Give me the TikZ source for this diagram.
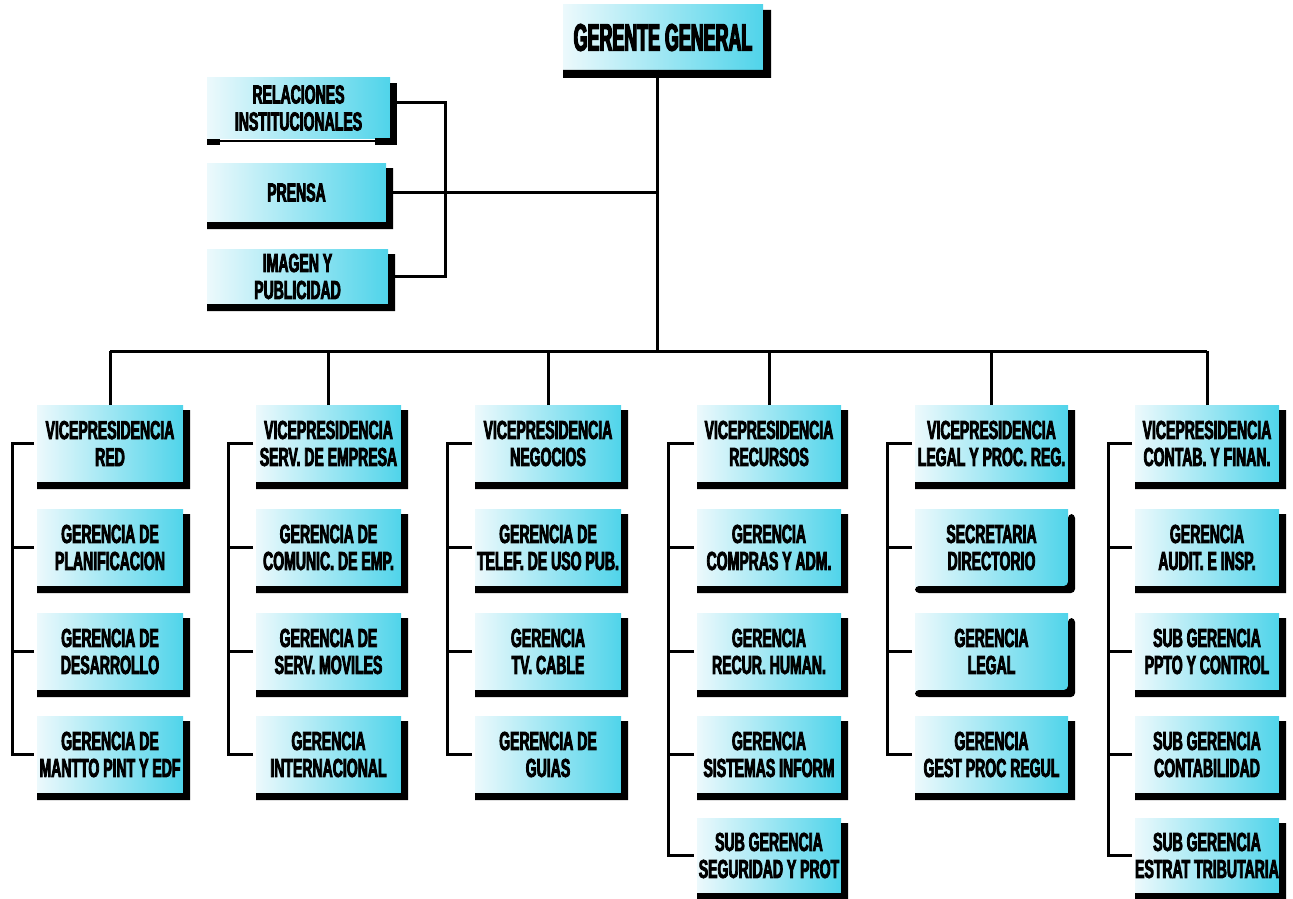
\documentclass[tikz,border=0pt]{standalone}
\usepackage{fontspec}
\newfontfamily\orgfont{Liberation Sans}[FakeStretch=0.54,FakeBold=3]
\newfontfamily\topfont{Liberation Sans}[FakeStretch=0.47,FakeBold=3.5]
\definecolor{boxlight}{RGB}{236,249,252}
\definecolor{boxcyan}{RGB}{80,212,234}
\tikzset{
  box/.style={left color=boxlight, right color=boxcyan, inner sep=0pt, outer sep=0pt,
    align=center, font=\orgfont\bfseries\fontsize{26}{27}\selectfont},
  bigbox/.style={box, font=\topfont\bfseries\fontsize{38}{38}\selectfont},
  shadowbar/.style={fill=black},
  link/.style={draw=black, line width=3pt}
}
% box with an L-shaped black shadow on its right and bottom edges
% #1 shadow options, #2 name, #3 left, #4 top, #5 right, #6 bottom, #7 text
\newcommand\orgbox[7][]{%
  \node[box, minimum width={#5-#3}, minimum height={#6-#4}, anchor=north west] (#2) at (#3,#4) {#7};
  \fill[shadowbar,#1] ([yshift=-5pt]#2.north east) -- ([xshift=7pt,yshift=-5pt]#2.north east)
    -- ([xshift=7pt,yshift=-7pt]#2.south east) -- ([yshift=-7pt]#2.south west)
    -- (#2.south west) -- (#2.south east) -- cycle;
}
\begin{document}
\begin{tikzpicture}[x=1pt,y=-1pt]
\useasboundingbox[fill=white] (0,0) rectangle (1293,899);

% top level
\node[bigbox, minimum width=200, minimum height=65, anchor=north west] (gg) at (563,5) {GERENTE GENERAL};
\fill[shadowbar] ([yshift=-5pt]gg.north east) -- ([xshift=8pt,yshift=-5pt]gg.north east)
  -- ([xshift=8pt,yshift=-8pt]gg.south east) -- ([yshift=-8pt]gg.south west)
  -- (gg.south west) -- (gg.south east) -- cycle;

% staff boxes
\node[box, minimum width=183, minimum height=60, anchor=north west] (rel) at (207,78) {RELACIONES\\INSTITUCIONALES};
\fill[shadowbar] ([yshift=-5pt]rel.north east) rectangle ([xshift=7pt,yshift=-7pt]rel.south east);
\fill[shadowbar] ([xshift=-15pt]rel.south east) rectangle ([yshift=-7pt]rel.south east);
\fill[shadowbar] ([yshift=-1pt]rel.south west) rectangle ([xshift=13pt,yshift=-7pt]rel.south west);
\draw[line width=1.4pt] ([xshift=13pt,yshift=-3pt]rel.south west) -- ([xshift=-15pt,yshift=-3pt]rel.south east);
\orgbox{pr}{207}{163}{386}{222}{PRENSA}
\orgbox{img}{207}{249}{388}{304}{IMAGEN Y\\PUBLICIDAD}

% column 1
\orgbox{c1r1}{37}{405}{183}{482}{VICEPRESIDENCIA\\RED}
\orgbox{c1r2}{37}{509}{183}{586}{GERENCIA DE\\PLANIFICACION}
\orgbox{c1r3}{37}{613}{183}{690}{GERENCIA DE\\DESARROLLO}
\orgbox{c1r4}{37}{716}{183}{793}{GERENCIA DE\\MANTTO PINT Y EDF}
% column 2
\orgbox{c2r1}{256}{405}{401}{482}{VICEPRESIDENCIA\\SERV. DE EMPRESA}
\orgbox{c2r2}{256}{509}{401}{586}{GERENCIA DE\\COMUNIC. DE EMP.}
\orgbox{c2r3}{256}{613}{401}{690}{GERENCIA DE\\SERV. MOVILES}
\orgbox{c2r4}{256}{716}{401}{793}{GERENCIA\\INTERNACIONAL}
% column 3
\orgbox{c3r1}{475}{405}{621}{482}{VICEPRESIDENCIA\\NEGOCIOS}
\orgbox{c3r2}{475}{509}{621}{586}{GERENCIA DE\\TELEF. DE USO PUB.}
\orgbox{c3r3}{475}{613}{621}{690}{GERENCIA\\TV. CABLE}
\orgbox{c3r4}{475}{716}{621}{793}{GERENCIA DE\\GUIAS}
% column 4
\orgbox{c4r1}{697}{405}{841}{482}{VICEPRESIDENCIA\\RECURSOS}
\orgbox{c4r2}{697}{509}{841}{586}{GERENCIA\\COMPRAS Y ADM.}
\orgbox{c4r3}{697}{613}{841}{690}{GERENCIA\\RECUR. HUMAN.}
\orgbox{c4r4}{697}{716}{841}{793}{GERENCIA\\SISTEMAS INFORM}
\orgbox{c4r5}{697}{818}{841}{893}{SUB GERENCIA\\SEGURIDAD Y PROT}
% column 5
\orgbox{c5r1}{915}{405}{1068}{482}{VICEPRESIDENCIA\\LEGAL Y PROC. REG.}
\orgbox[rounded corners=4pt]{c5r2}{915}{509}{1068}{586}{SECRETARIA\\DIRECTORIO}
\orgbox[rounded corners=4pt]{c5r3}{915}{613}{1068}{690}{GERENCIA\\LEGAL}
\orgbox{c5r4}{915}{716}{1068}{793}{GERENCIA\\GEST PROC REGUL}
% column 6
\orgbox{c6r1}{1135}{405}{1279}{482}{VICEPRESIDENCIA\\CONTAB. Y FINAN.}
\orgbox{c6r2}{1135}{509}{1279}{586}{GERENCIA\\AUDIT. E INSP.}
\orgbox{c6r3}{1135}{613}{1279}{690}{SUB GERENCIA\\PPTO Y CONTROL}
\orgbox{c6r4}{1135}{716}{1279}{793}{SUB GERENCIA\\CONTABILIDAD}
\orgbox{c6r5}{1135}{818}{1279}{893}{SUB GERENCIA\\ESTRAT TRIBUTARIA}

% guide coordinates for the connector lines
\coordinate (trunk) at (657,0);
\coordinate (bus) at (0,351);
\coordinate (sspine) at (445,0);
\coordinate (s1) at (12,0);
\coordinate (s2) at (228,0);
\coordinate (s3) at (447,0);
\coordinate (s4) at (668,0);
\coordinate (s5) at (887,0);
\coordinate (s6) at (1108,0);

% trunk, staff links and main bus
\draw[link] (gg.south -| trunk) -- (trunk |- bus);
\draw[link] ([xshift=7pt]pr.east) -- (pr.east -| trunk);
\draw[link] ([xshift=7pt,yshift=6pt]rel.east) -- ([yshift=6pt]rel.east -| sspine)
  -- (img.east -| sspine) -- ([xshift=7pt]img.east);
\draw[link] (c1r1.north |- bus) -- (c6r1.north |- bus);
\foreach \c in {1,...,6}{
  \draw[link] (c\c r1.north) -- (c\c r1.north |- bus);
}

% column brackets
\draw[link] ([xshift=-3pt]c1r1.west) -- (c1r1.west -| s1) -- (c1r4.west -| s1) -- ([xshift=-3pt]c1r4.west);
\foreach \r in {2,3}{\draw[link] ([xshift=-3pt]c1r\r.west) -- (c1r\r.west -| s1);}
\draw[link] ([xshift=-3pt]c2r1.west) -- (c2r1.west -| s2) -- (c2r4.west -| s2) -- ([xshift=-3pt]c2r4.west);
\foreach \r in {2,3}{\draw[link] ([xshift=-3pt]c2r\r.west) -- (c2r\r.west -| s2);}
\draw[link] ([xshift=-3pt]c3r1.west) -- (c3r1.west -| s3) -- (c3r4.west -| s3) -- ([xshift=-3pt]c3r4.west);
\foreach \r in {2,3}{\draw[link] ([xshift=-3pt]c3r\r.west) -- (c3r\r.west -| s3);}
\draw[link] ([xshift=-3pt]c4r1.west) -- (c4r1.west -| s4) -- (c4r5.west -| s4) -- ([xshift=-3pt]c4r5.west);
\foreach \r in {2,3,4}{\draw[link] ([xshift=-3pt]c4r\r.west) -- (c4r\r.west -| s4);}
\draw[link] ([xshift=-3pt]c5r1.west) -- (c5r1.west -| s5) -- (c5r4.west -| s5) -- ([xshift=-3pt]c5r4.west);
\foreach \r in {2,3}{\draw[link] ([xshift=-3pt]c5r\r.west) -- (c5r\r.west -| s5);}
\draw[link] ([xshift=-3pt]c6r1.west) -- (c6r1.west -| s6) -- (c6r5.west -| s6) -- ([xshift=-3pt]c6r5.west);
\foreach \r in {2,3,4}{\draw[link] ([xshift=-3pt]c6r\r.west) -- (c6r\r.west -| s6);}
\end{tikzpicture}
\end{document}
